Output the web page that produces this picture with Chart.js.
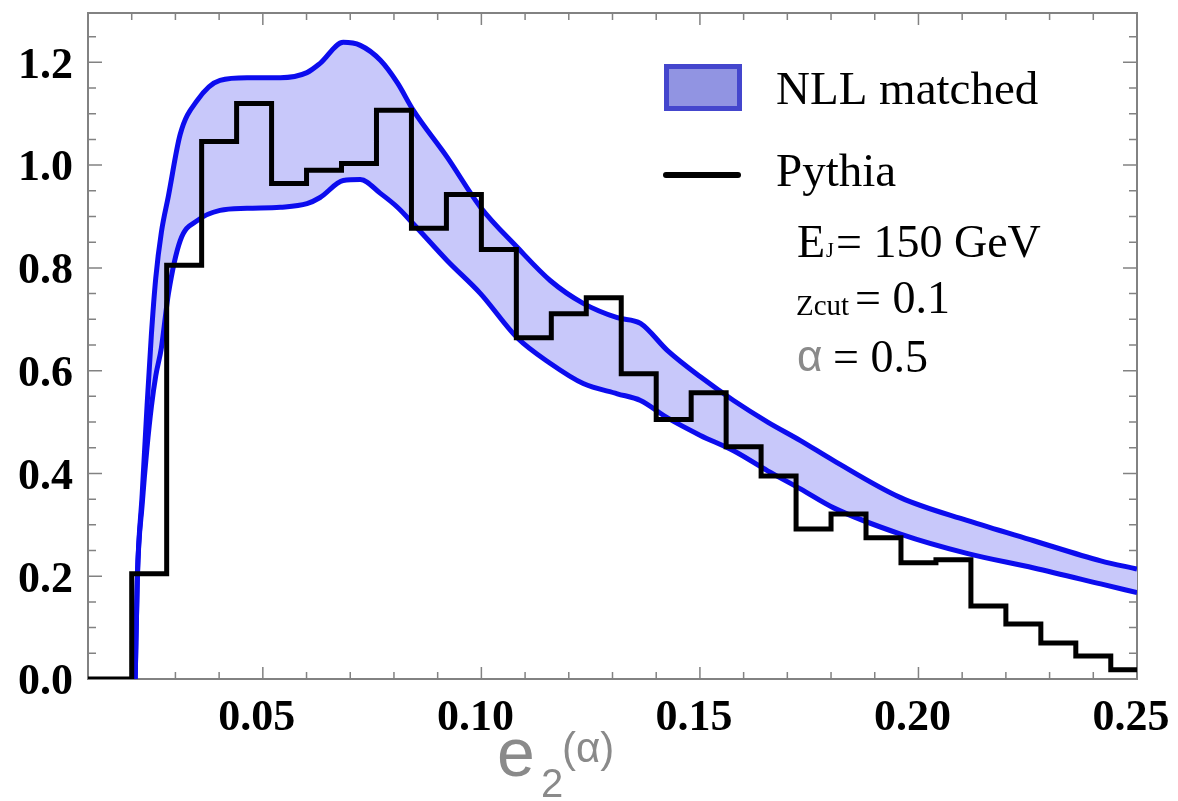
<!DOCTYPE html>
<html>
<head>
<meta charset="utf-8">
<script src="https://cdn.jsdelivr.net/npm/chart.js@4.4.1/dist/chart.umd.min.js"></script>
<style>
  body { margin: 0; background: #fff; }
  canvas { display: block; }
</style>
</head>
<body>
<canvas id="chart" width="1178" height="801"></canvas>
<script>
// --- datos ---
// banda NLL (borde superior e inferior), mismo eje x
const curveX = [0.0208, 0.0213, 0.0224, 0.0235, 0.0245, 0.0255, 0.0268, 0.0284, 0.0311, 0.0350,
  0.0402, 0.0464, 0.0540, 0.0601, 0.0631, 0.0684, 0.0723, 0.0769, 0.0808, 0.0844,
  0.0922, 0.0998, 0.1082, 0.1158, 0.1233, 0.1311, 0.1364, 0.1426, 0.1501, 0.1577,
  0.1655, 0.1730, 0.1806, 0.1959, 0.2113, 0.2264, 0.2417, 0.2500];
const upperY = [0, 0.20, 0.36, 0.53, 0.67, 0.78, 0.87, 0.94, 1.06, 1.126,
  1.165, 1.170, 1.170, 1.180, 1.198, 1.239, 1.233, 1.204, 1.160, 1.107,
  1.015, 0.918, 0.840, 0.775, 0.731, 0.703, 0.692, 0.639, 0.588, 0.542,
  0.500, 0.464, 0.425, 0.353, 0.308, 0.269, 0.230, 0.214];
const lowerY = [0, 0.20, 0.34, 0.45, 0.53, 0.59, 0.645, 0.75, 0.853, 0.892,
  0.912, 0.916, 0.918, 0.925, 0.937, 0.970, 0.972, 0.945, 0.918, 0.886,
  0.814, 0.750, 0.664, 0.614, 0.575, 0.555, 0.542, 0.508, 0.474, 0.444,
  0.405, 0.370, 0.333, 0.282, 0.244, 0.216, 0.185, 0.168];

// histograma Pythia: borde izquierdo de cada bin y su altura
const histX = [0.010, 0.020, 0.028, 0.036, 0.044, 0.052, 0.060, 0.068, 0.076, 0.084,
  0.092, 0.100, 0.108, 0.116, 0.124, 0.132, 0.140, 0.148, 0.156, 0.164,
  0.172, 0.180, 0.188, 0.196, 0.204, 0.212, 0.220, 0.228, 0.236, 0.244, 0.250];
const histY = [0, 0.205, 0.805, 1.046, 1.120, 0.964, 0.990, 1.003, 1.107, 0.877,
  0.943, 0.836, 0.664, 0.711, 0.742, 0.594, 0.505, 0.557, 0.452, 0.395,
  0.292, 0.321, 0.275, 0.226, 0.232, 0.142, 0.107, 0.070, 0.045, 0.018, 0.018];

const xTickValues = [0.05, 0.10, 0.15, 0.20, 0.25];
const yTickValues = [0.0, 0.2, 0.4, 0.6, 0.8, 1.0, 1.2];
const legendLabels = ['NLL matched', 'Pythia'];

const BLUE = 'rgb(12,12,238)';
const BAND = 'rgb(200,200,250)';
const FRAME = 'rgb(130,130,130)';

function toPoints(xs, ys) {
    return xs.map((x, i) => ({ x: x, y: ys[i] }));
}

// --- marco con marcas hacia dentro (estilo Mathematica) ---
const framePlugin = {
    id: 'frame',
    beforeDatasetsDraw(chart) {
        const { ctx, chartArea: a, scales } = chart;
        const xs = scales.x, ys = scales.y;
        ctx.save();
        ctx.strokeStyle = FRAME;
        ctx.lineWidth = 2;
        ctx.strokeRect(a.left, a.top, a.right - a.left, a.bottom - a.top);
        ctx.lineWidth = 1.5;
        ctx.beginPath();
        // marcas x cada 0.01, mayores cada 0.05
        for (let k = 1; k <= 25; k++) {
            const px = xs.getPixelForValue(k / 100);
            if (px <= a.left + 1 || px >= a.right - 1) continue;
            const len = (k % 5 === 0) ? 12 : 7;
            ctx.moveTo(px, a.bottom); ctx.lineTo(px, a.bottom - len);
            ctx.moveTo(px, a.top); ctx.lineTo(px, a.top + len);
        }
        // marcas y cada 0.05, mayores cada 0.2
        for (let k = 1; k <= 25; k++) {
            const py = ys.getPixelForValue(k * 0.05);
            if (py <= a.top + 1) continue;
            const len = (k % 4 === 0) ? 14 : 8;
            ctx.moveTo(a.left, py); ctx.lineTo(a.left + len, py);
            ctx.moveTo(a.right, py); ctx.lineTo(a.right - len, py);
        }
        ctx.stroke();
        ctx.restore();
    },
    afterDraw(chart) {
        const ctx = chart.ctx;
        const serif = '"Liberation Serif", "Times New Roman", serif';
        const sans = '"Liberation Sans", Arial, sans-serif';
        ctx.save();
        ctx.textBaseline = 'alphabetic';
        ctx.textAlign = 'left';

        // leyenda
        ctx.fillStyle = 'rgb(145,148,226)';
        ctx.fillRect(664, 64, 78, 47);
        ctx.strokeStyle = 'rgb(68,70,205)';
        ctx.lineWidth = 5;
        ctx.strokeRect(666.5, 66.5, 73, 42);
        ctx.fillStyle = '#000';
        ctx.font = '47px ' + serif;
        ctx.fillText(legendLabels[0], 776, 104);
        ctx.strokeStyle = '#000';
        ctx.lineWidth = 6;
        ctx.lineCap = 'round';
        ctx.beginPath();
        ctx.moveTo(666, 175); ctx.lineTo(738, 175);
        ctx.stroke();
        ctx.fillText(legendLabels[1], 776, 186);

        // parametros
        ctx.font = '46px ' + serif;
        ctx.fillText('E', 797, 257);
        ctx.font = '20px ' + serif;
        ctx.fillText('J', 826, 257);
        ctx.font = '46px ' + serif;
        ctx.fillText('= 150 GeV', 836, 257);

        ctx.font = '29px ' + serif;
        ctx.fillText('Zcut', 796, 315);
        ctx.font = '46px ' + serif;
        ctx.fillText('= 0.1', 855, 313);

        ctx.fillStyle = '#8a8a8a';
        ctx.font = '44px ' + sans;
        ctx.fillText('\u03b1', 797, 371);
        ctx.fillStyle = '#000';
        ctx.font = '46px ' + serif;
        ctx.fillText('= 0.5', 833, 372);

        // titulo eje x: e2^(alpha)
        ctx.fillStyle = '#8a8a8a';
        ctx.font = '68px ' + sans;
        ctx.fillText('e', 497, 776);
        ctx.font = '40px ' + sans;
        ctx.fillText('2', 541, 797);
        ctx.font = '42px ' + sans;
        ctx.fillText('(\u03b1)', 562, 762);
        ctx.restore();
    }
};

const ctx = document.getElementById('chart').getContext('2d');
new Chart(ctx, {
    type: 'line',
    data: {
        datasets: [
            {
                label: legendLabels[1],
                data: toPoints(histX, histY),
                borderColor: '#000',
                borderWidth: 5,
                stepped: 'before',
                pointRadius: 0,
                fill: false
            },
            {
                label: legendLabels[0],
                data: toPoints(curveX, upperY),
                borderColor: BLUE,
                borderWidth: 5,
                cubicInterpolationMode: 'monotone',
                pointRadius: 0,
                fill: false
            },
            {
                label: legendLabels[0] + ' (low)',
                data: toPoints(curveX, lowerY),
                borderColor: BLUE,
                borderWidth: 5,
                backgroundColor: BAND,
                cubicInterpolationMode: 'monotone',
                pointRadius: 0,
                fill: '-1'
            }
        ]
    },
    options: {
        responsive: false,
        animation: false,
        layout: { padding: { top: 13, right: 41, left: 0, bottom: 0 } },
        plugins: {
            legend: { display: false },
            tooltip: { enabled: false }
        },
        scales: {
            x: {
                type: 'linear',
                min: 0.01,
                max: 0.25,
                grid: { display: false, drawTicks: false },
                border: { display: false },
                afterFit(scale) {
                    scale.height = 122;
                    scale.paddingLeft = 0;
                    scale.paddingRight = 0;
                },
                afterBuildTicks(scale) { scale.ticks = xTickValues.map(v => ({ value: v })); },
                ticks: {
                    padding: 13,
                    labelOffset: -6,
                    maxRotation: 0,
                    autoSkip: false,
                    color: '#000',
                    font: { family: '"Liberation Serif", "Times New Roman", serif', size: 44, weight: 'bold' },
                    callback: v => v.toFixed(2)
                }
            },
            y: {
                type: 'linear',
                min: 0,
                max: 1.296,
                grid: { display: false, drawTicks: false },
                border: { display: false },
                afterFit(scale) {
                    scale.width = 88;
                    scale.paddingTop = 0;
                    scale.paddingBottom = 0;
                },
                afterBuildTicks(scale) { scale.ticks = yTickValues.map(v => ({ value: v })); },
                ticks: {
                    padding: 15,
                    labelOffset: 4,
                    autoSkip: false,
                    color: '#000',
                    font: { family: '"Liberation Serif", "Times New Roman", serif', size: 44, weight: 'bold' },
                    callback: v => v.toFixed(1)
                }
            }
        }
    },
    plugins: [framePlugin]
});
</script>
</body>
</html>
